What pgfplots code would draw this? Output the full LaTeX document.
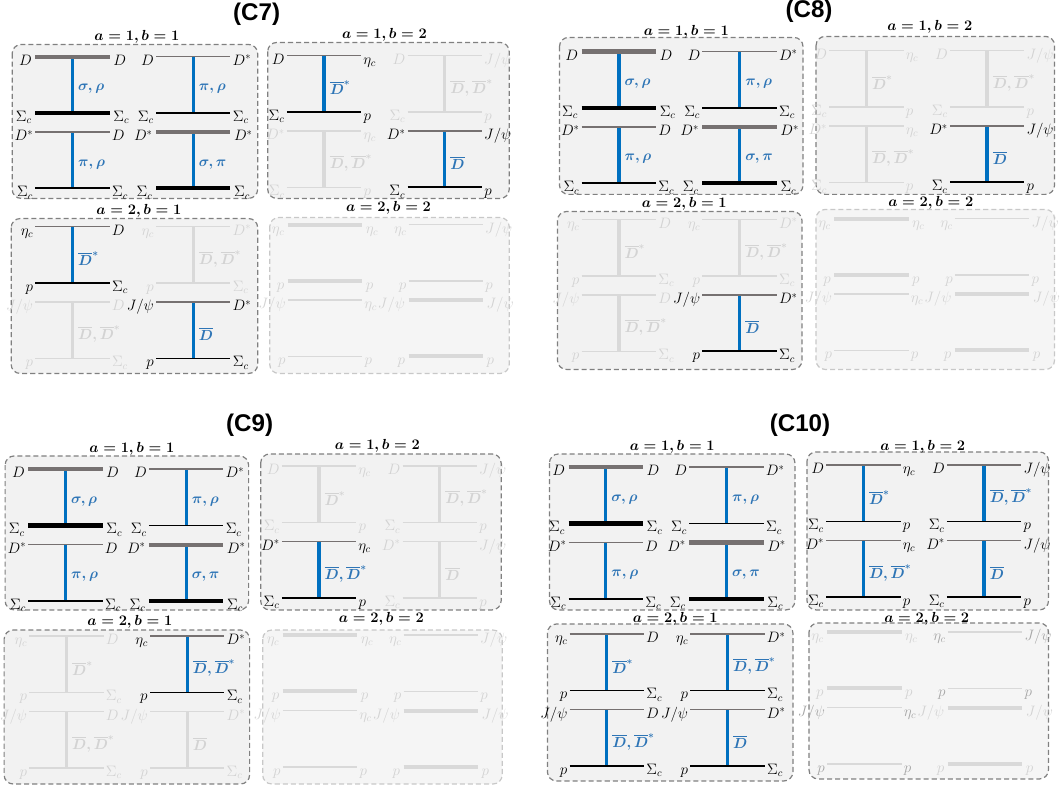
\RequirePackage{fix-cm}
\documentclass[border=0pt]{standalone}
\usepackage{amsmath}
\usepackage{fontspec}
\usepackage{pgfplots}
\pgfplotsset{compat=1.18}
\newfontfamily\titlefont{Liberation Sans}

\definecolor{dgray}{HTML}{767171}
\definecolor{lineblue}{HTML}{0070C0}
\definecolor{txtblue}{HTML}{2E75B6}
\definecolor{fade}{HTML}{D9D9D9}
\definecolor{fadetxt}{HTML}{D3D3D3}
\definecolor{midtxt}{HTML}{A6A6A6}
\definecolor{boxfill}{HTML}{F2F2F2}
\definecolor{boxfillb}{HTML}{F5F5F5}
\definecolor{bdark}{HTML}{808080}
\definecolor{blight}{HTML}{C8C8C8}

\tikzset{
  topAT/.style={draw=dgray,line width=4pt},
  topAN/.style={draw=dgray,line width=1.3pt},
  botAT/.style={draw=black,line width=4.3pt},
  botAN/.style={draw=black,line width=1.7pt},
  topFT/.style={draw=fade,line width=4pt},
  topFN/.style={draw=fade,line width=1.3pt},
  botFT/.style={draw=fade,line width=4pt},
  botFN/.style={draw=fade,line width=1.5pt},
  topMT/.style={draw=fade,line width=4pt},
  topMN/.style={draw=fade,line width=1.3pt},
  botMT/.style={draw=fade,line width=4pt},
  botMN/.style={draw=fade,line width=1.5pt},
  vertA/.style={draw=lineblue,line width=3.3pt},
  vertF/.style={draw=fade,line width=3.3pt},
  vertM/.style={draw=fade,line width=3.3pt},
  labA/.style={text=black,font=\fontsize{15}{17}\selectfont},
  labF/.style={text=fadetxt,font=\fontsize{15}{17}\selectfont},
  labM/.style={text=midtxt,font=\fontsize{15}{17}\selectfont},
  vlabA/.style={text=txtblue,font=\fontsize{14.5}{16}\selectfont\boldmath},
  vlabF/.style={text=fadetxt,font=\fontsize{14.5}{16}\selectfont\boldmath},
  vlabM/.style={text=midtxt,font=\fontsize{14.5}{16}\selectfont\boldmath},
  labL/.style={inner sep=0pt,anchor=base east,xshift=-1.5pt,yshift=-8.5pt},
  labR/.style={inner sep=0pt,anchor=base west,xshift=1.5pt,yshift=-8.5pt},
  vlab/.style={inner sep=0pt,anchor=west,xshift=4pt,yshift=-4pt},
  boxD/.style={draw=bdark,fill=boxfill,dash pattern=on 5pt off 3pt,line width=1.2pt,rounded corners=9pt},
  boxL/.style={draw=blight,fill=boxfillb,dash pattern=on 5pt off 3pt,line width=1.2pt,rounded corners=9pt},
  boxDL/.style={draw=bdark,fill=boxfillb,dash pattern=on 5pt off 3pt,line width=1.2pt,rounded corners=9pt},
  sublab/.style={font=\fontsize{14.5}{16}\selectfont\boldmath,inner sep=0pt},
  ttl/.style={font=\titlefont\bfseries\fontsize{24}{28}\selectfont,inner sep=0pt}
}

% one ladder diagram: #1,#2 origin (left end of upper line); #3 mode A/F/M; #4 weight T/N;
% #5 upper-left, #6 upper-right, #7 lower-left, #8 lower-right, #9 exchanged particle
\newcommand{\diag}[9]{%
  \ifx\relax#9\relax\else
  \addplot[vert#3,x filter/.expression={x+#1},y filter/.expression={y+#2}]
    coordinates {(37,0) (37,56)} node[pos=0.5,vlab,vlab#3] {$#9$};
  \fi
  \addplot[top#3#4,x filter/.expression={x+#1},y filter/.expression={y+#2}]
    coordinates {(0,0) (74,0)}
    node[pos=0,lab#3,labL] {$#5$} node[pos=1,lab#3,labR] {$#6$};
  \addplot[bot#3#4,x filter/.expression={x+#1},y filter/.expression={y+#2}]
    coordinates {(0,56) (74,56)}
    node[pos=0,lab#3,labL] {$#7$} node[pos=1,lab#3,labR] {$#8$};
}
% a=1,b=1
\newcommand{\typeA}[6]{%
  \diag{#1}{#2}{#3}{T}{D}{D}{\Sigma_c}{\Sigma_c}{\sigma,\rho}%
  \diag{#1+120}{#2}{#4}{N}{D}{D^*}{\Sigma_c}{\Sigma_c}{\pi,\rho}%
  \diag{#1}{#2+75}{#5}{N}{D^*}{D}{\Sigma_c}{\Sigma_c}{\pi,\rho}%
  \diag{#1+120}{#2+75}{#6}{T}{D^*}{D^*}{\Sigma_c}{\Sigma_c}{\sigma,\pi}%
}
% a=1,b=2
\newcommand{\typeB}[6]{%
  \diag{#1}{#2}{#3}{N}{D}{\eta_c}{\Sigma_c}{p}{\overline{D}^*}%
  \diag{#1+120}{#2}{#4}{N}{D}{J/\psi}{\Sigma_c}{p}{\overline{D},\overline{D}^*}%
  \diag{#1}{#2+75}{#5}{N}{D^*}{\eta_c}{\Sigma_c}{p}{\overline{D},\overline{D}^*}%
  \diag{#1+120}{#2+75}{#6}{N}{D^*}{J/\psi}{\Sigma_c}{p}{\overline{D}}%
}
% a=2,b=1
\newcommand{\typeC}[6]{%
  \diag{#1}{#2}{#3}{N}{\eta_c}{D}{p}{\Sigma_c}{\overline{D}^*}%
  \diag{#1+120}{#2}{#4}{N}{\eta_c}{D^*}{p}{\Sigma_c}{\overline{D},\overline{D}^*}%
  \diag{#1}{#2+75}{#5}{N}{J/\psi}{D}{p}{\Sigma_c}{\overline{D},\overline{D}^*}%
  \diag{#1+120}{#2+75}{#6}{N}{J/\psi}{D^*}{p}{\Sigma_c}{\overline{D}}%
}
% a=2,b=2
\newcommand{\typeD}[6]{%
  \diag{#1}{#2}{#3}{T}{\eta_c}{\eta_c}{p}{p}{}%
  \diag{#1+120}{#2}{#4}{N}{\eta_c}{J/\psi}{p}{p}{}%
  \diag{#1}{#2+75}{#5}{N}{J/\psi}{\eta_c}{p}{p}{}%
  \diag{#1+120}{#2+75}{#6}{T}{J/\psi}{J/\psi}{p}{p}{}%
}

\begin{document}
\begin{tikzpicture}
\begin{axis}[width=1060pt,height=787pt,scale only axis,
  xmin=0,xmax=1060,ymin=0,ymax=787,y dir=reverse,
  hide axis,clip=false,
  every axis plot/.append style={mark=none}]

% ---------------- boxes ----------------
\draw[boxD] (axis cs:13,50) rectangle (axis cs:257,203);
\draw[boxD] (axis cs:267,48) rectangle (axis cs:507,203);
\draw[boxD] (axis cs:12,223) rectangle (axis cs:257,377);
\draw[boxL] (axis cs:269,222) rectangle (axis cs:507,377);

\draw[boxD] (axis cs:557,43) rectangle (axis cs:799,199);
\draw[boxD] (axis cs:812,42) rectangle (axis cs:1049,199);
\draw[boxD] (axis cs:555,216) rectangle (axis cs:798,373);
\draw[boxL] (axis cs:812,214) rectangle (axis cs:1049,373);

\draw[boxD] (axis cs:6,459) rectangle (axis cs:248,612);
\draw[boxD] (axis cs:260,457) rectangle (axis cs:499,612);
\draw[boxD] (axis cs:5,632) rectangle (axis cs:249,785);
\draw[boxL] (axis cs:262,632) rectangle (axis cs:500,785);

\draw[boxD] (axis cs:547,457) rectangle (axis cs:791,612);
\draw[boxD] (axis cs:803,455) rectangle (axis cs:1043,612);
\draw[boxD] (axis cs:545,626) rectangle (axis cs:789,782);
\draw[boxDL] (axis cs:805,625) rectangle (axis cs:1043,780);

% ---------------- titles ----------------
\node[ttl] at (axis cs:256,20) {(C7)};
\node[ttl] at (axis cs:805,17) {(C8)};
\node[ttl] at (axis cs:249,428) {(C9)};
\node[ttl] at (axis cs:796,428) {(C10)};

% ---------------- sub labels ----------------
\node[sublab] at (axis cs:137,42) {$a=1,b=1$};
\node[sublab] at (axis cs:383,40) {$a=1,b=2$};
\node[sublab] at (axis cs:139,215) {$a=2,b=1$};
\node[sublab] at (axis cs:387,212) {$a=2,b=2$};

\node[sublab] at (axis cs:683,37) {$a=1,b=1$};
\node[sublab] at (axis cs:925,33) {$a=1,b=2$};
\node[sublab] at (axis cs:681,208) {$a=2,b=1$};
\node[sublab] at (axis cs:926,207) {$a=2,b=2$};

\node[sublab] at (axis cs:132,452) {$a=1,b=1$};
\node[sublab] at (axis cs:376,449) {$a=1,b=2$};
\node[sublab] at (axis cs:130,624) {$a=2,b=1$};
\node[sublab] at (axis cs:380,621) {$a=2,b=2$};

\node[sublab] at (axis cs:669,450) {$a=1,b=1$};
\node[sublab] at (axis cs:918,450) {$a=1,b=2$};
\node[sublab] at (axis cs:672,621) {$a=2,b=1$};
\node[sublab] at (axis cs:922,621) {$a=2,b=2$};

% ---------------- diagrams ----------------
% C7
\typeA{36}{62}{A}{A}{A}{A}
\typeB{286}{61}{A}{F}{F}{A}
\typeC{36}{231}{A}{F}{F}{A}
\typeD{287}{229}{F}{F}{F}{F}
% C8
\typeA{579}{57}{A}{A}{A}{A}
\typeB{825}{56}{F}{F}{F}{A}
\typeC{579}{224}{F}{F}{F}{A}
\typeD{830}{223}{F}{F}{F}{F}
% C9
\typeA{29}{472}{A}{A}{A}{A}
\typeB{281}{469}{F}{F}{A}{F}
\typeC{30}{638}{F}{A}{F}{F}
\typeD{282}{637}{F}{F}{F}{F}
% C10
\typeA{566}{470}{A}{A}{A}{A}
\typeB{822}{468}{A}{A}{A}{A}
\typeC{567}{636}{A}{A}{A}{A}
\typeD{823}{634}{F}{M}{M}{F}
\end{axis}
\end{tikzpicture}
\end{document}
